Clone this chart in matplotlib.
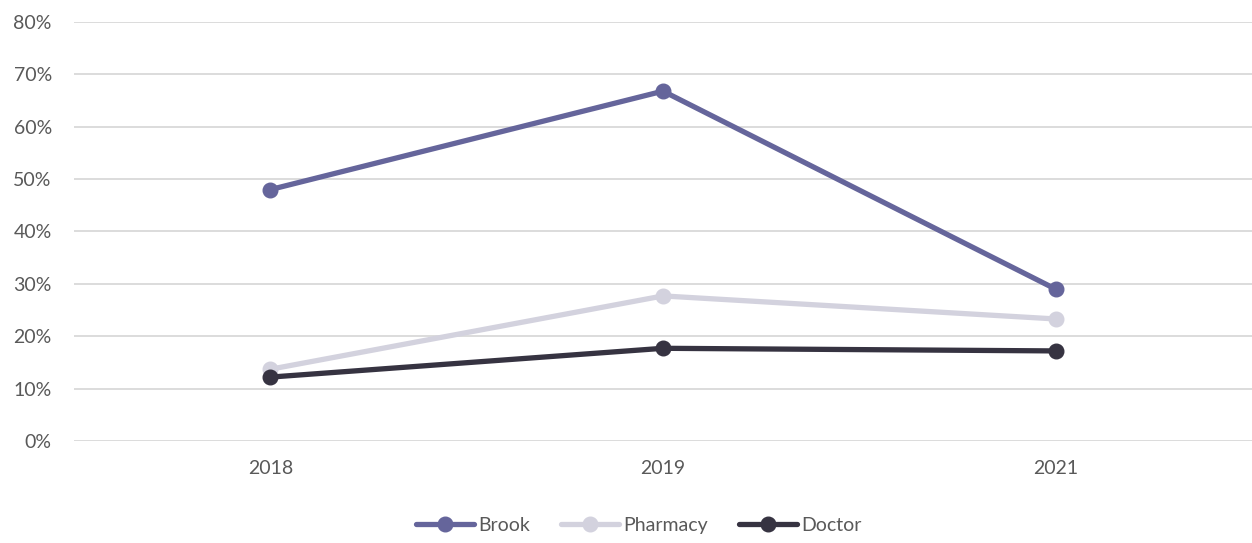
"""
line chart - Brook / Pharmacy / Doctor
"""

import matplotlib.pyplot as plt
import numpy as np

plt.rcParams['font.family'] = ['Lato', 'DejaVu Sans']

years = ['2018', '2019', '2021']
brook = [48.0, 66.8, 29.0]
pharmacy = [13.7, 27.7, 23.3]
doctor = [12.2, 17.7, 17.2]

series = [('Brook', brook, '#65659b'),
          ('Pharmacy', pharmacy, '#d3d2de'),
          ('Doctor', doctor, '#363341')]

fig = plt.figure(figsize=(12.52, 5.43), dpi=100)
ax = fig.add_axes([74 / 1252, 102 / 543, 1178 / 1252, 419 / 543])

x = np.arange(len(years))
for name, vals, col in series:
    ax.plot(x, vals, color=col, lw=3.8, marker='o', ms=10.5, label=name,
            solid_capstyle='round')

ax.set_xlim(-0.5, 2.5)
ax.set_ylim(0, 80)
ax.set_yticks(np.arange(0, 81, 10))
ax.set_yticklabels([f'{v}%' for v in range(0, 81, 10)])
ax.set_xticks(x)
ax.set_xticklabels(years)
ax.grid(axis='y', color='#d9d9d9', lw=1.3)
ax.set_axisbelow(True)
for s in ax.spines.values():
    s.set_visible(False)
ax.tick_params(length=0, labelsize=14, colors='#595959')
ax.tick_params(axis='y', pad=16)
ax.tick_params(axis='x', pad=14)

fig.legend(loc='center', bbox_to_anchor=(0.51, 0.033), ncol=3, frameon=False,
           fontsize=14, labelcolor='#595959', handlelength=3.0,
           handletextpad=0.2, columnspacing=1.6)

plt.savefig('out.png')
